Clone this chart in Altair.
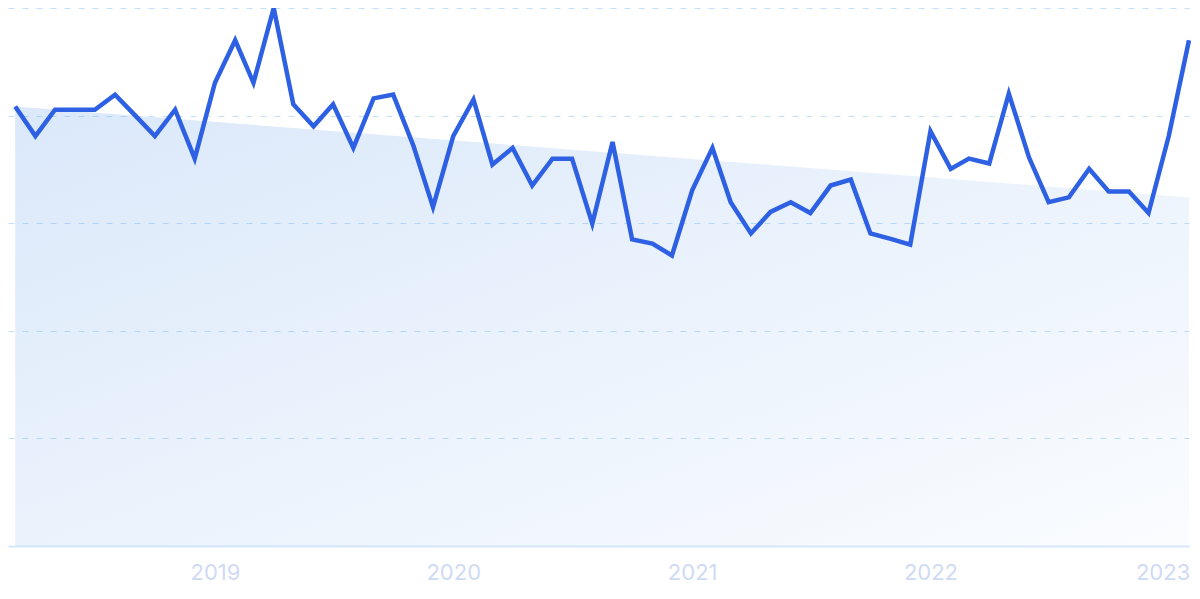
import altair as alt
import pandas as pd

months = pd.date_range("2018-03-01", "2023-02-01", freq="MS").strftime("%Y-%m-%d").tolist()
values = [81.7, 76.2, 81.1, 81.1, 81.1, 83.9, 80.0, 76.2, 81.1, 72.0,
          86.1, 94.0, 86.1, 100.0, 82.1, 78.0, 82.1, 74.0, 83.2, 83.9,
          74.4, 63.0, 76.2, 83.0, 70.9, 74.0, 67.0, 72.0, 72.0, 59.9,
          75.1, 57.0, 56.2, 54.0, 66.1, 74.0, 63.9, 58.1, 62.1, 63.9,
          61.9, 67.0, 68.1, 58.1, 57.1, 56.0, 77.1, 70.1, 72.0, 71.1,
          84.1, 72.2, 63.9, 64.8, 70.1, 65.9, 65.9, 61.9, 76.2, 94.0]
trend_dates = ["2018-03-01", "2023-02-01"]
trend_values = [81.7, 64.8]
grid_values = [0, 20, 40, 60, 80, 100]

df = pd.DataFrame({"date": months, "value": values})
tdf = pd.DataFrame({"date": trend_dates, "value": trend_values})

xscale = alt.Scale(type="utc", domain=[alt.DateTime(year=2018, month=2, date=18, utc=True),
                                       alt.DateTime(year=2023, month=2, date=1, utc=True)])
yscale = alt.Scale(domain=[0, 100], nice=False)

xaxis = alt.Axis(
    title=None, format="%Y", formatType="utc", grid=False, ticks=False,
    values=[alt.DateTime(year=y, month=1, date=1, utc=True) for y in range(2019, 2024)],
    labelFont="Inter", labelFontSize=22, labelColor="#cfdaf5", labelPadding=16,
    domainColor="#d6e7fa", domainWidth=2, labelFlush=25, labelFlushOffset=21,
)
yaxis = alt.Axis(
    title=None, labels=False, ticks=False, domain=False, values=grid_values,
    grid=True, gridColor="#c2e0fa", gridDash=[6, 8], gridWidth=1,
)

area = alt.Chart(tdf).mark_area(
    line=False,
    color=alt.Gradient(
        gradient="linear", x1=0, y1=0, x2=1, y2=1,
        stops=[alt.GradientStop(color="rgba(110,165,235,0.25)", offset=0),
               alt.GradientStop(color="rgba(110,165,235,0.03)", offset=1)],
    ),
).encode(
    x=alt.X("date:T", scale=xscale, axis=xaxis),
    y=alt.Y("value:Q", scale=yscale, axis=yaxis),
)

line = alt.Chart(df).mark_line(color="#2d60e3", strokeWidth=4.5, strokeJoin="miter").encode(
    x=alt.X("date:T", scale=xscale),
    y=alt.Y("value:Q", scale=yscale),
)

chart = (area + line).properties(
    width=1181, height=538,
    autosize=alt.AutoSizeParams(type="none"),
    padding={"left": 0, "top": 0, "right": 3, "bottom": 42},
).configure(background="white").configure_view(stroke=None)

chart.save("out.html", embed_options={"renderer": "svg", "actions": False})
